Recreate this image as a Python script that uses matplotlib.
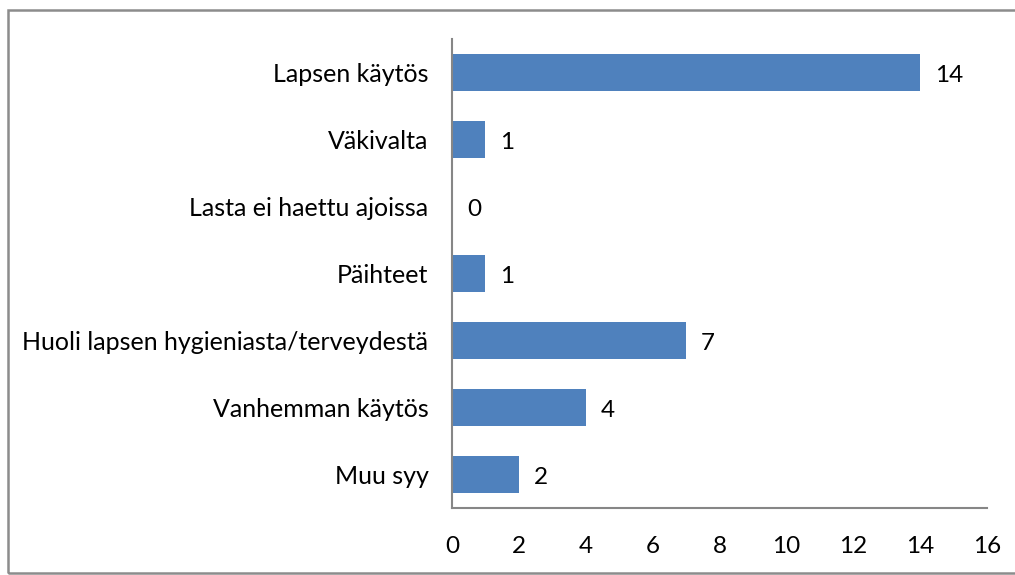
import matplotlib.pyplot as plt
from matplotlib.patches import Rectangle

categories = ['Lapsen käytös', 'Väkivalta', 'Lasta ei haettu ajoissa', 'Päihteet',
              'Huoli lapsen hygieniasta/terveydestä', 'Vanhemman käytös', 'Muu syy']
values = [14, 1, 0, 1, 7, 4, 2]
xticks = [0, 2, 4, 6, 8, 10, 12, 14, 16]

plt.rcParams['font.family'] = ['Lato', 'DejaVu Sans']

fig = plt.figure(figsize=(10.15, 5.75), dpi=100)
ax = fig.add_axes([452 / 1015, 1 - 508 / 575, 535 / 1015, 469 / 575])

# outer chart border
fig.patches.append(Rectangle((8 / 1015, 2 / 575), 1.1, 1 - 12 / 575, transform=fig.transFigure,
                             fill=False, edgecolor='#8c8c8c', linewidth=1.8))

ypos = list(range(len(categories)))
ax.barh(ypos, values, height=0.56, color='#4f81bd')
for y, v in zip(ypos, values):
    ax.text(v + 0.45, y + 0.04, str(v), va='center', ha='left', fontsize=17.5)

ax.set_ylim(len(categories) - 0.5, -0.5)
ax.set_xlim(0, 16)
ax.set_yticks(ypos)
ax.set_yticklabels(categories, fontsize=18)
ax.set_xticks(xticks)
ax.set_xticklabels([str(t) for t in xticks], fontsize=17.5)
ax.tick_params(length=0)
ax.tick_params(axis='y', pad=17)
ax.tick_params(axis='x', pad=20)
for side in ['top', 'right']:
    ax.spines[side].set_visible(False)
for side in ['left', 'bottom']:
    ax.spines[side].set_color('#868686')
    ax.spines[side].set_linewidth(1.5)

fig.savefig('out.png', dpi=100)
